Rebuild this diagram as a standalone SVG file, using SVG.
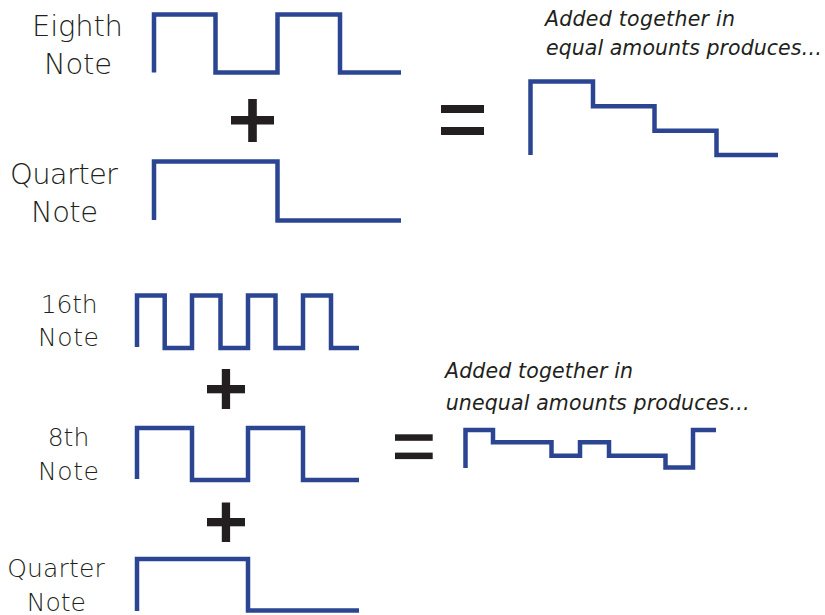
<svg xmlns="http://www.w3.org/2000/svg" width="825" height="615" viewBox="0 0 825 615">
<style>
.w{fill:none;stroke:#2B4592;stroke-width:4.5;stroke-linejoin:miter;stroke-linecap:butt}
.op{fill:#231F20}
.lb{font-family:"DejaVu Sans","Open Sans",sans-serif;font-weight:200;fill:#231F20;text-anchor:middle}
.it{font-family:"DejaVu Sans","Open Sans",sans-serif;font-weight:200;font-style:italic;fill:#231F20;font-size:20.5px}
</style>
<rect width="825" height="615" fill="#fff"/>
<g id="top-labels" class="lb" font-size="29">
<text x="77.5" y="36" textLength="91">Eighth</text>
<text x="78" y="74" textLength="68">Note</text>
<text x="64" y="184" textLength="108">Quarter</text>
<text x="64.5" y="222" textLength="67">Note</text>
</g>
<g id="top-eighth"><path class="w" d="M154,72.5V14.5H215.5V72.5H277.5V14.5H340V72.5H401"/></g>
<g id="top-quarter"><path class="w" d="M154,220V161.5H277.5V220.5H401"/></g>
<g id="top-plus" class="op"><rect x="231" y="116" width="43" height="8.5"/><rect x="248.2" y="99" width="8.6" height="43"/></g>
<g id="top-equals" class="op"><rect x="441" y="105" width="43" height="8"/><rect x="441" y="127" width="43" height="8"/></g>
<g id="top-result"><path class="w" d="M530.5,155V81.5H593V106.3H654.5V130.7H716.5V155H778"/></g>
<g id="top-caption" class="it">
<text x="545" y="26" textLength="190">Added together in</text>
<text x="546" y="55" textLength="276">equal amounts produces…</text>
</g>
<g id="bottom-labels" class="lb" font-size="25">
<text x="69.2" y="312.7" textLength="57">16th</text>
<text x="68.5" y="345.7" textLength="61">Note</text>
<text x="68.5" y="445.7" textLength="41.6">8th</text>
<text x="68.5" y="480" textLength="61">Note</text>
<text x="56" y="576.7" textLength="97.7">Quarter</text>
<text x="56.3" y="611" textLength="59.3">Note</text>
</g>
<g id="bottom-16th"><path class="w" d="M137,347V295.5H164.7V348H192V295.5H220.5V348H248V295.5H275.5V348H303V295.5H331V348H359"/></g>
<g id="bottom-8th"><path class="w" d="M137,479V428H192V480H248V428H303V480H359"/></g>
<g id="bottom-quarter"><path class="w" d="M137,611V559H248V610.5H359"/></g>
<g id="bottom-plus1" class="op"><rect x="207" y="385" width="38" height="8.3"/><rect x="221.8" y="369" width="8.3" height="40"/></g>
<g id="bottom-plus2" class="op"><rect x="207" y="518" width="38" height="8.3"/><rect x="221.8" y="502.5" width="8.3" height="39.5"/></g>
<g id="bottom-equals" class="op"><rect x="395" y="434.3" width="37.7" height="6.5"/><rect x="395" y="452.6" width="37.7" height="6.5"/></g>
<g id="bottom-result"><path class="w" d="M465.5,468V430H493V442.3H551.5V455.7H580V442.3H609V455.7H665.5V467.5H693V430H716"/></g>
<g id="bottom-caption" class="it">
<text x="445" y="378.3" textLength="188">Added together in</text>
<text x="445.7" y="410" textLength="304">unequal amounts produces…</text>
</g>
</svg>
